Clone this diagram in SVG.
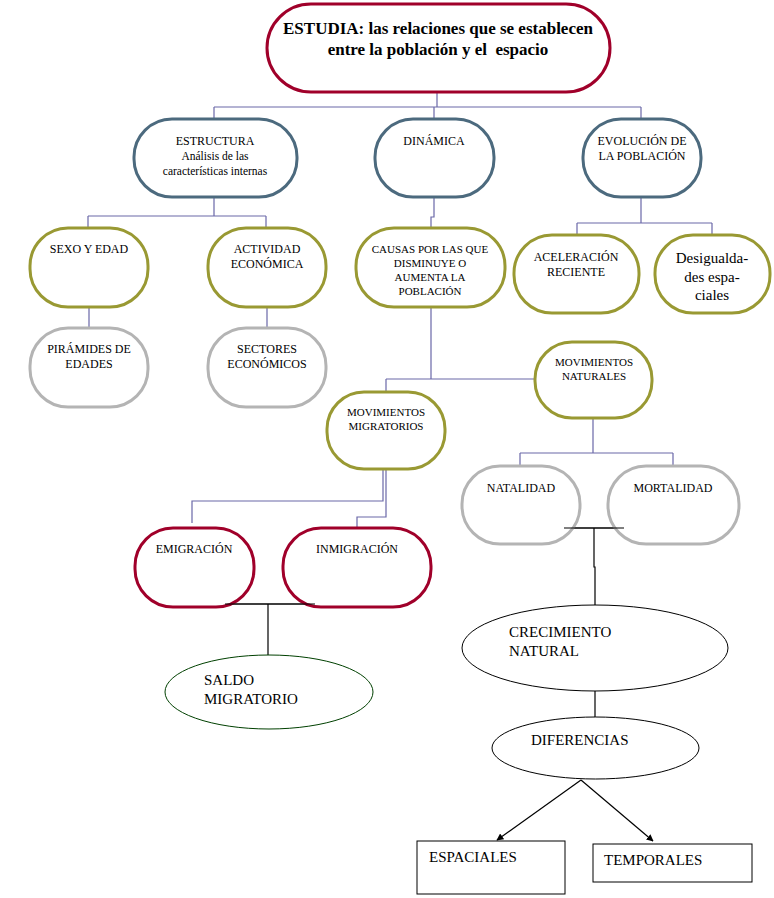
<svg xmlns="http://www.w3.org/2000/svg" width="774" height="898" viewBox="0 0 774 898">
<defs>
<style>
.t{font-family:"Liberation Serif","Times New Roman",serif;fill:#000;}
.c{text-anchor:middle;}
.n{fill:#fff;stroke-width:3;}
.red{stroke:#A0002A;}
.blue{stroke:#4C6A7E;}
.olive{stroke:#999933;}
.gray{stroke:#B4B4B4;}
.con{fill:none;stroke:#6A68A8;stroke-width:1.2;}
.blk{fill:none;stroke:#000;stroke-width:1.2;}
.thin{fill:#fff;stroke:#000;stroke-width:1;}
</style>
<marker id="ah" viewBox="0 0 10 10" refX="9" refY="5" markerWidth="7" markerHeight="7" orient="auto" markerUnits="userSpaceOnUse">
<path d="M0,0 L10,5 L0,10 z" fill="#000"/>
</marker>
</defs>
<rect width="774" height="898" fill="#fff"/>
<g id="connectors">
<path class="con" d="M437,92 V107 M214,107 H641 M214,107 V119 M434,107 V119 M641,107 V119"/>
<path class="con" d="M214,197 V216 M88,216 H266 M88,216 V228 M266,216 V228"/>
<path class="con" d="M89,307 V328 M267,307 V328"/>
<path class="con" d="M434,197 V217 H431 V228"/>
<path class="con" d="M641,197 V223 M577,223 H712 M577,223 V235 M712,223 V235"/>
<path class="con" d="M431,307 V379 M386,379 H535 M386,379 V392"/>
<path class="con" d="M593,418 V453 M520,453 H673 M520,453 V466 M673,453 V466"/>
<path class="con" d="M383,469 V501 H192 V523 M386,469 V517 H357 V528"/>
<path class="blk" d="M225,604 H315 M268,604 V655"/>
<path class="blk" d="M564,528 H624 M594,528 V567 H595 V605"/>
<path class="blk" d="M595,691 V717"/>
<path class="blk" d="M581,780 L497,840" marker-end="url(#ah)"/>
<path class="blk" d="M581,780 L653,841" marker-end="url(#ah)"/>
</g>
<g id="estudia">
<rect class="n red" x="267" y="4" width="343" height="88" rx="44" ry="44"/>
<text class="t c" x="438" y="34" font-size="17" font-weight="bold">ESTUDIA: las relaciones que se establecen</text>
<text class="t c" x="438" y="55" font-size="17" font-weight="bold" xml:space="preserve">entre la población y el  espacio</text>
</g>
<g id="estructura">
<rect class="n blue" x="134" y="119" width="163" height="78" rx="38" ry="38"/>
<text class="t c" x="215" y="145" font-size="12">ESTRUCTURA</text>
<text class="t c" x="215" y="160" font-size="11.5">Análisis de las</text>
<text class="t c" x="215" y="175" font-size="11.5">características internas</text>
</g>
<g id="dinamica">
<rect class="n blue" x="375" y="119" width="119" height="78" rx="38" ry="38"/>
<text class="t c" x="434" y="145" font-size="12">DINÁMICA</text>
</g>
<g id="evolucion">
<rect class="n blue" x="583" y="119" width="118" height="78" rx="38" ry="38"/>
<text class="t c" x="642" y="145" font-size="12">EVOLUCIÓN DE</text>
<text class="t c" x="642" y="160" font-size="12">LA POBLACIÓN</text>
</g>
<g id="sexo">
<rect class="n olive" x="30" y="228" width="118" height="79" rx="38" ry="38"/>
<text class="t c" x="89" y="253" font-size="12">SEXO Y EDAD</text>
</g>
<g id="actividad">
<rect class="n olive" x="208" y="228" width="118" height="79" rx="38" ry="38"/>
<text class="t c" x="267" y="253" font-size="12">ACTIVIDAD</text>
<text class="t c" x="267" y="268" font-size="12">ECONÓMICA</text>
</g>
<g id="causas">
<rect class="n olive" x="356" y="228" width="149" height="79" rx="38" ry="38"/>
<text class="t c" x="430" y="253" font-size="11">CAUSAS POR LAS QUE</text>
<text class="t c" x="430" y="267" font-size="11">DISMINUYE O</text>
<text class="t c" x="430" y="281" font-size="11">AUMENTA LA</text>
<text class="t c" x="430" y="295" font-size="11">POBLACIÓN</text>
</g>
<g id="aceleracion">
<rect class="n olive" x="514" y="235" width="125" height="78" rx="38" ry="38"/>
<text class="t c" x="576" y="261" font-size="12">ACELERACIÓN</text>
<text class="t c" x="576" y="276" font-size="12">RECIENTE</text>
</g>
<g id="desigualdades">
<rect class="n olive" x="655" y="235" width="115" height="78" rx="38" ry="38"/>
<text class="t c" x="712" y="263" font-size="15">Desigualda-</text>
<text class="t c" x="712" y="282" font-size="15">des espa-</text>
<text class="t c" x="712" y="300" font-size="15">ciales</text>
</g>
<g id="piramides">
<rect class="n gray" x="30" y="328" width="118" height="79" rx="38" ry="38"/>
<text class="t c" x="89" y="353" font-size="12">PIRÁMIDES DE</text>
<text class="t c" x="89" y="368" font-size="12">EDADES</text>
</g>
<g id="sectores">
<rect class="n gray" x="208" y="328" width="118" height="79" rx="38" ry="38"/>
<text class="t c" x="267" y="353" font-size="12">SECTORES</text>
<text class="t c" x="267" y="368" font-size="12">ECONÓMICOS</text>
</g>
<g id="mov-naturales">
<rect class="n olive" x="535" y="342" width="117" height="76" rx="37" ry="37"/>
<text class="t c" x="594" y="366" font-size="11">MOVIMIENTOS</text>
<text class="t c" x="594" y="380" font-size="11">NATURALES</text>
</g>
<g id="mov-migratorios">
<rect class="n olive" x="327" y="392" width="118" height="77" rx="37" ry="37"/>
<text class="t c" x="386" y="416" font-size="11">MOVIMIENTOS</text>
<text class="t c" x="386" y="430" font-size="11">MIGRATORIOS</text>
</g>
<g id="natalidad">
<rect class="n gray" x="462" y="466" width="118" height="78" rx="38" ry="38"/>
<text class="t c" x="521" y="492" font-size="12">NATALIDAD</text>
</g>
<g id="mortalidad">
<rect class="n gray" x="608" y="466" width="131" height="78" rx="38" ry="38"/>
<text class="t c" x="673" y="492" font-size="12">MORTALIDAD</text>
</g>
<g id="emigracion">
<rect class="n red" x="135" y="528" width="119" height="79" rx="38" ry="38"/>
<text class="t c" x="194" y="553" font-size="12">EMIGRACIÓN</text>
</g>
<g id="inmigracion">
<rect class="n red" x="283" y="528" width="148" height="79" rx="38" ry="38"/>
<text class="t c" x="357" y="553" font-size="12">INMIGRACIÓN</text>
</g>
<path class="blk" d="M225,604 H315 M564,528 H624"/>
<g id="saldo">
<ellipse cx="269" cy="692" rx="104" ry="37" fill="#fff" stroke="#004000" stroke-width="1"/>
<text class="t" x="204" y="685" font-size="15">SALDO</text>
<text class="t" x="204" y="704" font-size="15">MIGRATORIO</text>
</g>
<g id="crecimiento">
<ellipse class="thin" cx="595" cy="648" rx="133" ry="43"/>
<text class="t" x="509" y="637" font-size="15">CRECIMIENTO</text>
<text class="t" x="509" y="656" font-size="15">NATURAL</text>
</g>
<g id="diferencias">
<ellipse class="thin" cx="595.5" cy="748" rx="103.5" ry="31"/>
<text class="t" x="531" y="745" font-size="15">DIFERENCIAS</text>
</g>
<g id="espaciales">
<rect class="thin" x="417" y="841" width="148" height="53"/>
<text class="t" x="429" y="862" font-size="15">ESPACIALES</text>
</g>
<g id="temporales">
<rect class="thin" x="593" y="844" width="159" height="38"/>
<text class="t" x="604" y="865" font-size="15">TEMPORALES</text>
</g>
</svg>
